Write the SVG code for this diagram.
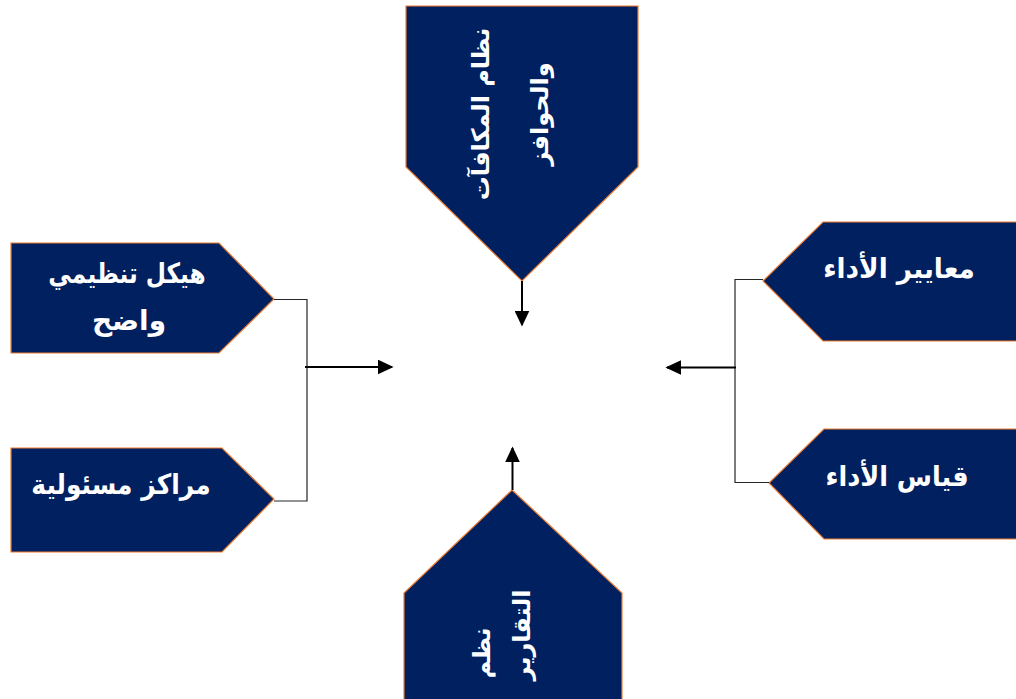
<svg xmlns="http://www.w3.org/2000/svg" width="1016" height="699" viewBox="0 0 1016 699">
  <defs>
    <marker id="arrow" viewBox="0 0 10 10" refX="9" refY="5" markerWidth="8" markerHeight="7.5" orient="auto" markerUnits="strokeWidth" preserveAspectRatio="none">
      <path d="M0,0 L10,5 L0,10 z" fill="#000"/>
    </marker>
  </defs>
  <style>
    .box { fill: #002060; stroke: #ED7D31; stroke-width: 1.2; }
    .lbl { fill: #ffffff; font-family: "DejaVu Sans", "Noto Sans", sans-serif; font-weight: bold; font-size: 28px; text-anchor: middle; }
    .vlbl { fill: #ffffff; font-family: "DejaVu Sans", "Noto Sans", sans-serif; font-weight: bold; font-size: 24px; text-anchor: middle; }
    .bracket { fill: none; stroke: #262626; stroke-width: 1.2; }
    .flow { fill: none; stroke: #000000; stroke-width: 2; marker-end: url(#arrow); }
  </style>
  <rect width="1016" height="699" fill="#ffffff"/>

  <!-- top: rewards and incentives -->
  <g id="node-rewards">
    <polygon class="box" points="406,6 638,6 638,167 522,281 406,167"/>
    <g transform="translate(517,114) rotate(-90)">
      <text class="vlbl" x="0" y="-28">نظام المكافآت</text>
      <text class="vlbl" x="0" y="31">والحوافز</text>
    </g>
  </g>

  <!-- left: organisational structure -->
  <g id="node-structure">
    <polygon class="box" points="11,243 219,243 274,299 219,353 11,353"/>
    <text class="lbl" transform="translate(127,283) scale(0.83,1)">هيكل تنظيمي</text>
    <text class="lbl" transform="translate(129,330) scale(1,1)">واضح</text>
  </g>

  <!-- left: responsibility centres -->
  <g id="node-centres">
    <polygon class="box" points="11,448 222,448 274,499 222,552 11,552"/>
    <text class="lbl" transform="translate(121,494) scale(0.89,1)">مراكز مسئولية</text>
  </g>

  <!-- right: performance standards -->
  <g id="node-standards">
    <polygon class="box" points="823,222 1030,222 1030,341 823,341 763,281"/>
    <text class="lbl" transform="translate(899,278) scale(0.94,1)">معايير الأداء</text>
  </g>

  <!-- right: performance measurement -->
  <g id="node-measurement">
    <polygon class="box" points="824,429 1030,429 1030,539 824,539 769,483"/>
    <text class="lbl" transform="translate(897,486) scale(0.91,1)">قياس الأداء</text>
  </g>

  <!-- bottom: reporting systems -->
  <g id="node-reporting">
    <polygon class="box" points="512,490 622,593 622,705 404,705 404,593"/>
    <g transform="translate(502,640) rotate(-90)">
      <text class="vlbl" x="-13" y="-12">نظم</text>
      <text class="vlbl" x="5" y="28">التقارير</text>
    </g>
  </g>

  <g id="connectors">
    <polyline class="bracket" points="274,299.5 307,299.5 307,501 274,501"/>
    <polyline class="bracket" points="763,279.5 735,279.5 735,482.5 769,482.5"/>
    <line class="flow" x1="305" y1="367" x2="392" y2="367"/>
    <line class="flow" x1="736" y1="367.5" x2="667" y2="367.5"/>
    <line class="flow" x1="522" y1="281" x2="522" y2="325"/>
    <line class="flow" x1="512.5" y1="490" x2="512.5" y2="448"/>
  </g>
</svg>
